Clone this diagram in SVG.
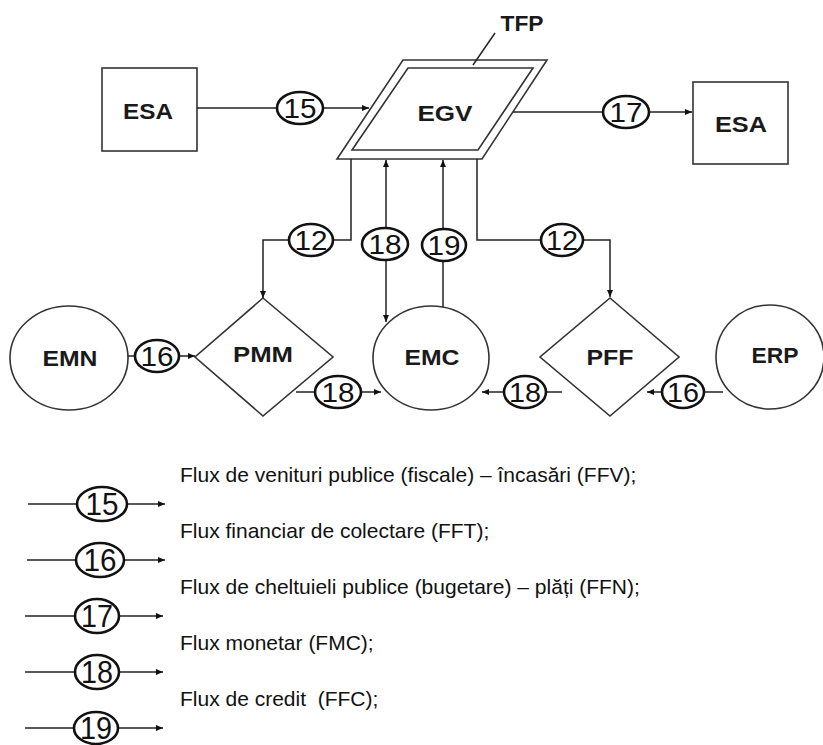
<svg xmlns="http://www.w3.org/2000/svg" width="823" height="745" viewBox="0 0 823 745">
<style>
.shape{fill:none;stroke:#333;stroke-width:1.6}
.lbl{font-family:"Liberation Sans",Arial,sans-serif;font-weight:bold;font-size:22px;fill:#1a1a1a;text-anchor:middle}
.ln{fill:none;stroke:#222;stroke-width:1.5}
.arr{fill:none;stroke:#222;stroke-width:1.5;marker-end:url(#ah)}
.oval{fill:none;stroke:#111;stroke-width:2.6}
.num{font-family:"Liberation Sans",Arial,sans-serif;font-size:27px;fill:#111;text-anchor:middle}
.lnum{font-family:"Liberation Sans",Arial,sans-serif;font-size:31px;fill:#111;text-anchor:middle}
.leg{font-family:"Liberation Sans",Arial,sans-serif;font-size:21px;fill:#111;white-space:pre}
</style>
<defs>
<marker id="ah" markerWidth="8" markerHeight="8" refX="7" refY="4" orient="auto" markerUnits="userSpaceOnUse"><path d="M0,1 L7,4 L0,7 z" fill="#111"/></marker>
</defs>
<rect width="823" height="745" fill="#fff"/>

<g id="esa-left"><rect class="shape" x="102" y="68" width="95" height="83"/><text class="lbl" x="148" y="119" textLength="50" lengthAdjust="spacingAndGlyphs">ESA</text></g>
<g id="egv">
<polygon class="shape" points="403,60 547,60 482,159 337,159" stroke-width="2.2"/>
<polygon class="shape" points="408,68 533,68 478,150 352,150" stroke-width="2"/>
<text class="lbl" x="445" y="121" textLength="55" lengthAdjust="spacingAndGlyphs">EGV</text>
</g>
<g id="tfp"><line class="ln" x1="495" y1="33" x2="473" y2="65"/><text class="lbl" x="522" y="31" font-size="21" textLength="43" lengthAdjust="spacingAndGlyphs">TFP</text></g>
<g id="esa-right"><rect class="shape" x="693" y="82" width="95" height="82"/><text class="lbl" x="741" y="132" textLength="52" lengthAdjust="spacingAndGlyphs">ESA</text></g>
<g id="emn"><ellipse class="shape" cx="69" cy="358" rx="59" ry="52"/><text class="lbl" x="70" y="366" textLength="55" lengthAdjust="spacingAndGlyphs">EMN</text></g>
<g id="pmm"><polygon class="shape" points="263,298 333,357 263,416 195,357"/><text class="lbl" x="263" y="362" textLength="60" lengthAdjust="spacingAndGlyphs">PMM</text></g>
<g id="emc"><ellipse class="shape" cx="431" cy="358" rx="58" ry="52"/><text class="lbl" x="432" y="365" textLength="55" lengthAdjust="spacingAndGlyphs">EMC</text></g>
<g id="pff"><polygon class="shape" points="610,298 679,357 610,416 540,357"/><text class="lbl" x="610" y="365" textLength="47" lengthAdjust="spacingAndGlyphs">PFF</text></g>
<g id="erp"><ellipse class="shape" cx="770" cy="357" rx="54" ry="52"/><text class="lbl" x="775" y="363" textLength="47" lengthAdjust="spacingAndGlyphs">ERP</text></g>

<g id="connectors">
<path class="ln" d="M197,108 H278"/><path class="arr" d="M324,108 H369"/>
<path class="ln" d="M513,112 H603"/><path class="arr" d="M649,112 H692"/>
<path class="ln" d="M351,159 V240 H333"/><path class="arr" d="M289,240 H263 V298"/>
<path class="arr" d="M386,228 V160"/><path class="arr" d="M386,260 V322"/>
<path class="ln" d="M443,307 V261"/><path class="arr" d="M443,229 V160"/>
<path class="ln" d="M477,159 V240 H541"/><path class="arr" d="M583,240 H610 V297"/>
<path class="ln" d="M128,356 H135"/><path class="arr" d="M179,356 H195"/>
<path class="ln" d="M296,392 H315"/><path class="arr" d="M361,392 H381"/>
<path class="ln" d="M562,392 H546"/><path class="arr" d="M504,392 H482"/>
<path class="ln" d="M723,392 H704"/><path class="arr" d="M662,392 H647"/>

<ellipse class="oval" cx="300" cy="108" rx="23" ry="16"/><text class="num" x="300" y="118" textLength="33" lengthAdjust="spacingAndGlyphs">15</text>
<ellipse class="oval" cx="626" cy="112" rx="23" ry="16"/><text class="num" x="626" y="122" textLength="33" lengthAdjust="spacingAndGlyphs">17</text>
<ellipse class="oval" cx="311" cy="240" rx="22" ry="16"/><text class="num" x="311" y="250" textLength="33" lengthAdjust="spacingAndGlyphs">12</text>
<ellipse class="oval" cx="385" cy="244" rx="23" ry="16"/><text class="num" x="385" y="254" textLength="33" lengthAdjust="spacingAndGlyphs">18</text>
<ellipse class="oval" cx="444" cy="245" rx="22" ry="16"/><text class="num" x="444" y="255" textLength="33" lengthAdjust="spacingAndGlyphs">19</text>
<ellipse class="oval" cx="562" cy="240" rx="21" ry="16"/><text class="num" x="562" y="250" textLength="32" lengthAdjust="spacingAndGlyphs">12</text>
<ellipse class="oval" cx="157" cy="356" rx="22" ry="16"/><text class="num" x="157" y="366" textLength="33" lengthAdjust="spacingAndGlyphs">16</text>
<ellipse class="oval" cx="338" cy="392" rx="23" ry="16"/><text class="num" x="338" y="402" textLength="33" lengthAdjust="spacingAndGlyphs">18</text>
<ellipse class="oval" cx="525" cy="392" rx="21" ry="16"/><text class="num" x="525" y="402" textLength="32" lengthAdjust="spacingAndGlyphs">18</text>
<ellipse class="oval" cx="683" cy="392" rx="21" ry="16"/><text class="num" x="683" y="402" textLength="32" lengthAdjust="spacingAndGlyphs">16</text>
</g>

<g id="legend">
<path class="ln" d="M28,504 H77"/><path class="arr" d="M127,504 H165"/>
<ellipse class="oval" cx="102" cy="504" rx="25" ry="17"/><text class="lnum" x="102" y="515" textLength="33" lengthAdjust="spacingAndGlyphs">15</text>
<path class="ln" d="M27,560 H76"/><path class="arr" d="M124,560 H165"/>
<ellipse class="oval" cx="100" cy="560" rx="24" ry="17"/><text class="lnum" x="100" y="571" textLength="33" lengthAdjust="spacingAndGlyphs">16</text>
<path class="ln" d="M25,616 H75"/><path class="arr" d="M119,616 H163"/>
<ellipse class="oval" cx="97" cy="616" rx="22" ry="17"/><text class="lnum" x="97" y="627" textLength="32" lengthAdjust="spacingAndGlyphs">17</text>
<path class="ln" d="M25,672 H75"/><path class="arr" d="M119,672 H163"/>
<ellipse class="oval" cx="97" cy="672" rx="22" ry="17"/><text class="lnum" x="97" y="683" textLength="32" lengthAdjust="spacingAndGlyphs">18</text>
<path class="ln" d="M25,728 H74"/><path class="arr" d="M118,728 H163"/>
<ellipse class="oval" cx="96" cy="728" rx="22" ry="16"/><text class="lnum" x="96" y="739" textLength="32" lengthAdjust="spacingAndGlyphs">19</text>
<text class="leg" x="180" y="482">Flux de venituri publice (fiscale) – încasări (FFV);</text>
<text class="leg" x="180" y="538">Flux financiar de colectare (FFT);</text>
<text class="leg" x="180" y="594">Flux de cheltuieli publice (bugetare) – plăți (FFN);</text>
<text class="leg" x="180" y="650">Flux monetar (FMC);</text>
<text class="leg" x="180" y="706" xml:space="preserve">Flux de credit  (FFC);</text>
</g>
</svg>
